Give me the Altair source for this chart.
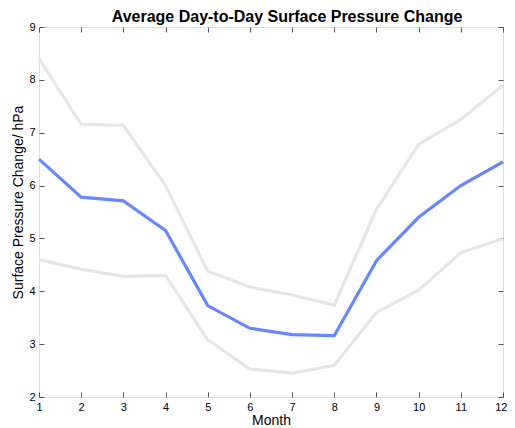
import altair as alt
import pandas as pd

months = [1, 2, 3, 4, 5, 6, 7, 8, 9, 10, 11, 12]
mean_change = [6.50, 5.78, 5.71, 5.15, 3.73, 3.30, 3.18, 3.16, 4.58, 5.40, 6.00, 6.45]
upper_change = [8.40, 7.16, 7.14, 6.00, 4.38, 4.08, 3.93, 3.74, 5.55, 6.78, 7.25, 7.90]
lower_change = [4.60, 4.42, 4.28, 4.30, 3.08, 2.53, 2.45, 2.60, 3.60, 4.02, 4.73, 5.00]
y_ticks = [2, 3, 4, 5, 6, 7, 8, 9]

series_names = ["upper", "lower", "mean"]
series_colors = ["#e6e6e6", "#e6e6e6", "#6688ff"]

rows = []
for name, vals in zip(series_names, [upper_change, lower_change, mean_change]):
    for m, v in zip(months, vals):
        rows.append({"month": m, "value": v, "series": name})
df = pd.DataFrame(rows)

FONT = "Arial, Liberation Sans, sans-serif"
xscale = alt.Scale(domain=[1, 12], nice=False, zero=False)
yscale = alt.Scale(domain=[2, 9], nice=False, zero=False)
color = alt.Color("series:N", scale=alt.Scale(domain=series_names, range=series_colors), legend=None)

common_axis = dict(domain=False, grid=False, labelFont=FONT, titleFont=FONT,
                   labelColor="#000", titleColor="#000", tickColor="#555")

main = alt.Chart(df).mark_line(strokeWidth=3.2).encode(
    x=alt.X("month:Q", scale=xscale,
            axis=alt.Axis(title="Month", values=months, ticks=False, labelFontSize=11,
                          labelPadding=4, titleFontSize=14, titleFontWeight="normal",
                          titlePadding=1, format="d", labelFlush=False,
                          labelAlign={"expr": "datum.value == 12 ? 'right' : 'center'"},
                          labelOffset={"expr": "datum.value == 12 ? 4 : 0"},
                          **common_axis)),
    y=alt.Y("value:Q", scale=yscale,
            axis=alt.Axis(title="Surface Pressure Change/ hPa", values=y_ticks,
                          ticks=False, labelFontSize=11, labelPadding=4, titleFontSize=14,
                          titleFontWeight="normal", titlePadding=3, titleY=175, format="d",
                          labelFlush=False, **common_axis)),
    color=color,
    order=alt.Order("series:N"),
    detail="series:N",
)

def tick_layer(xorient, yorient):
    return alt.Chart(df).mark_line(opacity=0).encode(
        x=alt.X("month:Q", scale=xscale,
                axis=alt.Axis(orient=xorient, title=None, labels=False, values=months,
                              ticks=True, tickSize=5, offset=-5, **common_axis)),
        y=alt.Y("value:Q", scale=yscale,
                axis=alt.Axis(orient=yorient, title=None, labels=False, values=y_ticks,
                              ticks=True, tickSize=5, offset=-5, **common_axis)),
        detail="series:N",
    )

chart = alt.layer(
    tick_layer("bottom", "left"),
    tick_layer("top", "right"),
    main,
).resolve_axis(x="independent", y="independent").properties(
    width=464,
    height=370,
    autosize=alt.AutoSizeParams(type="none"),
    padding={"left": 31, "top": 19, "right": 4, "bottom": 30},
    title=alt.Title("Average Day-to-Day Surface Pressure Change", font=FONT, fontSize=16,
                    fontWeight="bold", color="#000", anchor="middle", offset=-4, dx=16),
).configure_view(stroke="#555", strokeWidth=1).configure(background="white")

chart.save("out.html", embed_options={"renderer": "svg", "actions": False})
